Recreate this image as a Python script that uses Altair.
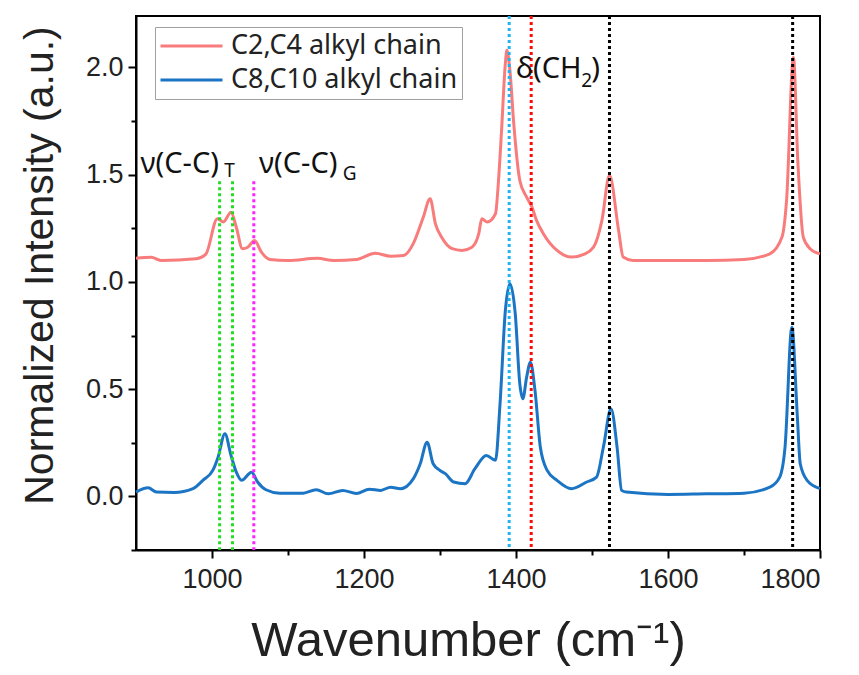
import altair as alt
import pandas as pd

# ---- data ----
red_wn = [900, 920, 933, 979, 992, 1007, 1015, 1025, 1032, 1040, 1047, 1056, 1065, 1076,
          1100, 1139, 1160, 1190, 1215, 1235, 1252, 1265, 1278, 1287, 1294, 1302, 1316,
          1329, 1342, 1351, 1355, 1362, 1373, 1377, 1381, 1386, 1388, 1392, 1397, 1405,
          1414, 1421, 1427, 1436, 1454, 1473, 1490, 1502, 1513, 1523, 1535, 1541, 1554,
          1600, 1650, 1700, 1734, 1750, 1756, 1765, 1771, 1778, 1787, 1800]
red_val = [1.11, 1.115, 1.10, 1.108, 1.13, 1.295, 1.28, 1.325, 1.255, 1.155, 1.162, 1.193,
           1.139, 1.105, 1.10, 1.11, 1.10, 1.105, 1.134, 1.12, 1.123, 1.18, 1.302, 1.388,
           1.271, 1.209, 1.155, 1.147, 1.162, 1.225, 1.295, 1.279, 1.318, 1.473, 1.706,
           2.02, 2.08, 1.986, 1.74, 1.473, 1.395, 1.349, 1.287, 1.225, 1.147, 1.116, 1.13,
           1.162, 1.286, 1.497, 1.24, 1.116, 1.10, 1.10, 1.10, 1.105, 1.131, 1.209, 1.38,
           2.048, 1.55, 1.209, 1.155, 1.131]

blue_wn = [900, 916, 927, 950, 975, 988, 1001, 1008, 1017, 1025, 1032, 1039, 1052, 1060,
           1071, 1089, 1120, 1137, 1153, 1172, 1190, 1207, 1222, 1235, 1248, 1265, 1274,
           1283, 1291, 1300, 1307, 1318, 1333, 1346, 1361, 1373, 1379, 1386, 1392, 1399,
           1405, 1409, 1414, 1419, 1425, 1432, 1441, 1454, 1473, 1493, 1506, 1515, 1525,
           1533, 1539, 1545, 1600, 1650, 1700, 1734, 1747, 1754, 1763, 1770, 1774, 1783, 1800]
blue_val = [0.02, 0.04, 0.02, 0.018, 0.036, 0.075, 0.121, 0.183, 0.292, 0.191, 0.113,
            0.075, 0.113, 0.067, 0.031, 0.015, 0.015, 0.031, 0.012, 0.028, 0.014, 0.033,
            0.028, 0.043, 0.036, 0.083, 0.152, 0.253, 0.152, 0.121, 0.106, 0.067, 0.059,
            0.129, 0.191, 0.168, 0.432, 0.867, 0.992, 0.852, 0.525, 0.455, 0.556, 0.626,
            0.494, 0.23, 0.121, 0.075, 0.036, 0.067, 0.09, 0.23, 0.409, 0.23, 0.028, 0.02,
            0.009, 0.012, 0.015, 0.043, 0.09, 0.23, 0.789, 0.385, 0.152, 0.075, 0.036]

series_names = ["C2,C4 alkyl chain", "C8,C10 alkyl chain"]
series_colors = ["#F87C7C", "#1B75C4"]

# marker lines (vertical dotted)
full_lines_wn = [1391, 1420, 1523, 1764]
full_lines_col = ["#1EB4F0", "#FF0A0A", "#000000", "#000000"]
part_lines_wn = [1010, 1027, 1055]
part_lines_col = ["#22DD22", "#22DD22", "#FF22FF"]
part_lines_top = [1.47, 1.47, 1.47]
part_lines_bottom = [-0.25, -0.25, -0.25]

# annotations
ann_text = ["ν(C-C)", "T", "ν(C-C)", "G", "δ(CH", "2", ")"]
ann_wn = [906, 1016, 1062, 1172, 1400, 1486, 1499]
ann_val = [1.51, 1.487, 1.51, 1.473, 1.949, 1.907, 1.949]
ann_size = [29, 19, 29, 19, 29, 19, 29]

x_domain = [900, 1800]
y_domain = [-0.25, 2.24]

# ---- build tables ----
df = pd.concat([
    pd.DataFrame({"wn": red_wn, "val": red_val, "series": series_names[0]}),
    pd.DataFrame({"wn": blue_wn, "val": blue_val, "series": series_names[1]}),
])
full_df = pd.DataFrame({"wn": full_lines_wn, "col": full_lines_col})
part_df = pd.DataFrame({"wn": part_lines_wn, "col": part_lines_col,
                        "top": part_lines_top, "bot": part_lines_bottom})
ann_df = pd.DataFrame({"t": ann_text, "wn": ann_wn, "val": ann_val, "fs": ann_size})

x_scale = alt.Scale(domain=x_domain, nice=False, zero=False)
y_scale = alt.Scale(domain=y_domain, nice=False, zero=False)

x_axis = alt.Axis(
    title="Wavenumber (cm⁻¹)",
    values=[1000, 1100, 1200, 1300, 1400, 1500, 1600, 1700, 1800],
    labelExpr="datum.value % 200 == 0 ? datum.label : ''",
    format="d",
    tickSize={"condition": {"test": "datum.value % 200 == 0", "value": 8}, "value": 5},
    labelPadding=8,
    titleY=105, titleX=332, titleBaseline="alphabetic", titleAnchor="middle",
    titleFontSize=49,
)
y_axis = alt.Axis(
    title="Normalized Intensity (a.u.)",
    values=[-0.25, 0, 0.25, 0.5, 0.75, 1.0, 1.25, 1.5, 1.75, 2.0],
    labelExpr="round(datum.value*4) % 2 == 0 ? format(datum.value, '.1f') : ''",
    tickSize={"condition": {"test": "round(datum.value*4) % 2 == 0", "value": 8}, "value": 5},
    labelPadding=5,
    titleX=-84, titleY=249, titleBaseline="alphabetic", titleAngle=-90, titleAlign="center",
    titleFontSize=41,
)

lines = alt.Chart(df).mark_line(strokeWidth=3, interpolate="monotone").encode(
    x=alt.X("wn:Q", scale=x_scale, axis=x_axis),
    y=alt.Y("val:Q", scale=y_scale, axis=y_axis),
    color=alt.Color("series:N",
                    scale=alt.Scale(domain=series_names, range=series_colors),
                    legend=alt.Legend(
                        title=None, orient="none", legendX=19, legendY=11,
                        symbolType="stroke", symbolSize=3844, symbolStrokeWidth=3,
                        clipHeight=30, rowPadding=4, labelFontSize=27, labelLimit=0,
                        labelFont="Noto Sans", labelColor="#222", labelOffset=7,
                        padding=4, strokeColor="#A0A0A0", fillColor="white",
                    )),
    detail="series:N",
)

full_rules = alt.Chart(full_df).mark_rule(strokeWidth=3, strokeDash=[3, 3]).encode(
    x=alt.X("wn:Q", scale=x_scale),
    color=alt.Color("col:N", scale=None),
)
part_rules = alt.Chart(part_df).mark_rule(strokeWidth=3, strokeDash=[3, 3]).encode(
    x=alt.X("wn:Q", scale=x_scale),
    y=alt.Y("top:Q", scale=y_scale),
    y2="bot:Q",
    color=alt.Color("col:N", scale=None),
)
texts = alt.Chart(ann_df).mark_text(align="left", baseline="alphabetic",
                                    font="Noto Sans", color="#111").encode(
    x=alt.X("wn:Q", scale=x_scale),
    y=alt.Y("val:Q", scale=y_scale),
    text="t:N",
    size=alt.Size("fs:Q", scale=None),
)

chart = alt.layer(lines, full_rules, part_rules, texts).properties(
    width=684, height=534,
    autosize=alt.AutoSizeParams(type="none"),
    padding={"left": 136, "top": 16, "right": 39, "bottom": 125},
    background="white",
).configure_view(
    stroke="black", strokeWidth=2,
).configure_axis(
    domainColor="black", domainWidth=2, tickColor="black", tickWidth=2,
    grid=False, labelFont="Liberation Sans", labelFontSize=27, labelColor="#222",
    titleFont="Liberation Sans", titleFontWeight="normal",
    titleColor="#222",
)

chart.save("out.html", embed_options={"renderer": "svg", "actions": False})
